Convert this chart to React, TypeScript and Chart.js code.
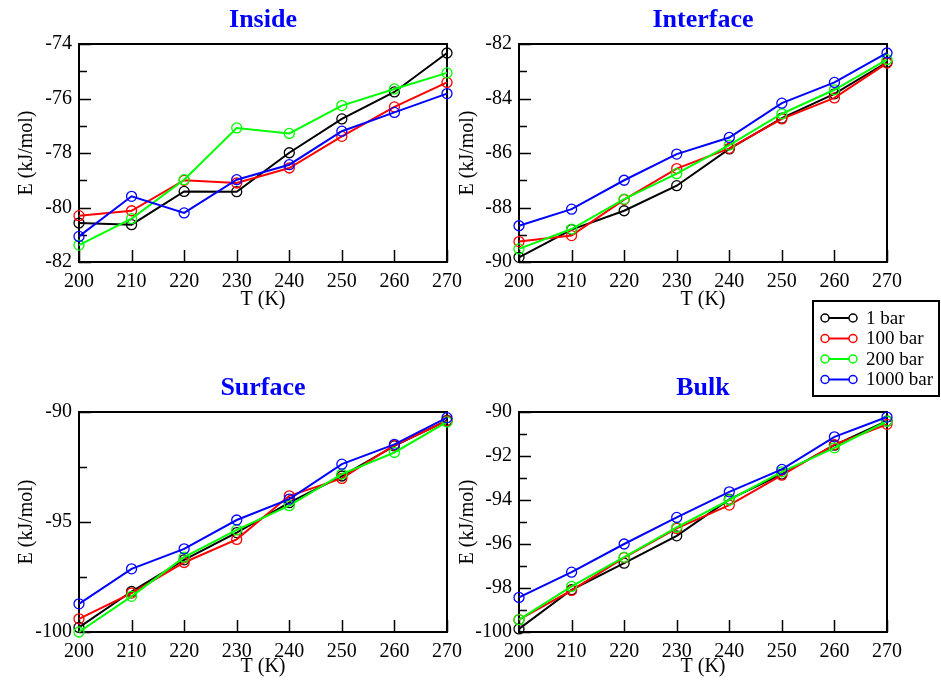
import React, { useEffect, useRef } from "react";
import { Chart, registerables } from "chart.js";

Chart.register(...registerables);

const temperatures = [200, 210, 220, 230, 240, 250, 260, 270];
const seriesLabels = ["1 bar", "100 bar", "200 bar", "1000 bar"];
const seriesColors = ["#000000", "#ff0000", "#00ff00", "#0000ff"];

const insideBar1 = [-80.57, -80.63, -79.41, -79.42, -77.99, -76.75, -75.76, -74.33];
const insideBar100 = [-80.3, -80.12, -79.0, -79.1, -78.55, -77.39, -76.31, -75.41];
const insideBar200 = [-81.38, -80.41, -78.98, -77.08, -77.28, -76.26, -75.65, -75.06];
const insideBar1000 = [-81.06, -79.59, -80.2, -78.98, -78.43, -77.2, -76.51, -75.82];

const interfaceBar1 = [-89.83, -88.81, -88.12, -87.2, -85.85, -84.72, -83.83, -82.67];
const interfaceBar100 = [-89.25, -89.03, -87.71, -86.57, -85.83, -84.75, -83.98, -82.7];
const interfaceBar200 = [-89.52, -88.79, -87.69, -86.76, -85.71, -84.56, -83.68, -82.57];
const interfaceBar1000 = [-88.67, -88.06, -87.0, -86.04, -85.43, -84.17, -83.41, -82.33];

const surfaceBar1 = [-99.79, -98.16, -96.72, -95.48, -94.12, -92.91, -91.54, -90.38];
const surfaceBar100 = [-99.4, -98.23, -96.84, -95.79, -93.81, -93.02, -91.51, -90.41];
const surfaceBar200 = [-100.0, -98.38, -96.6, -95.36, -94.26, -92.82, -91.84, -90.45];
const surfaceBar1000 = [-98.72, -97.13, -96.22, -94.91, -93.96, -92.37, -91.47, -90.26];

const bulkBar1 = [-99.86, -98.08, -96.87, -95.63, -93.97, -92.82, -91.51, -90.41];
const bulkBar100 = [-99.44, -98.11, -96.62, -95.29, -94.23, -92.87, -91.48, -90.56];
const bulkBar200 = [-99.44, -97.93, -96.6, -95.24, -94.0, -92.72, -91.63, -90.42];
const bulkBar1000 = [-98.43, -97.28, -96.0, -94.79, -93.63, -92.61, -91.13, -90.23];

const panelTitles = ["Inside", "Interface", "Surface", "Bulk"];
const xAxisTitle = "T (K)";
const yAxisTitle = "E (kJ/mol)";

const SERIF = "'Liberation Serif', 'Times New Roman', serif";

type PanelSpec = {
  title: string;
  series: number[][];
  yMin: number;
  yMax: number;
  yStep: number;
  yMinor: number;
  left: number;
  top: number;
  width: number;
  height: number;
  padRight: number;
  padBottom: number;
  yAxisWidth: number;
  xAxisHeight: number;
  titlePadTop: number;
  titlePadBottom: number;
  yTitlePad: number;
  legend: boolean;
};

const framePlugin = {
  id: "frameTicks",
  beforeDatasetsDraw(chart: any, _args: any, opts: any) {
    const { ctx, chartArea } = chart;
    const { left, right, top, bottom } = chartArea;
    const xs = chart.scales.x;
    const ys = chart.scales.y;
    ctx.save();
    ctx.strokeStyle = "#000";
    ctx.lineWidth = 1.5;
    ctx.beginPath();
    xs.ticks.forEach((t: any) => {
      const px = Math.round(xs.getPixelForValue(t.value)) + 0.5;
      ctx.moveTo(px, bottom);
      ctx.lineTo(px, bottom - 12);
    });
    const minor = opts.minor as number;
    const major = opts.major as number;
    for (let v = ys.min; v <= ys.max + 1e-9; v += minor) {
      const py = Math.round(ys.getPixelForValue(v)) + 0.5;
      const isMajor = Math.abs((v - ys.min) / major - Math.round((v - ys.min) / major)) < 1e-6;
      ctx.moveTo(left, py);
      ctx.lineTo(left + (isMajor ? 12 : 8), py);
    }
    ctx.stroke();
    ctx.lineWidth = 2;
    ctx.strokeRect(left, top, right - left, bottom - top);
    ctx.restore();
  },
};

const legendPlugin = {
  id: "boxLegend",
  afterDraw(chart: any, _args: any, opts: any) {
    if (!opts || !opts.show) return;
    const { ctx } = chart;
    const bx = opts.x as number;
    const by = opts.y as number;
    ctx.save();
    ctx.strokeStyle = "#000";
    ctx.lineWidth = 2;
    ctx.strokeRect(bx, by, opts.w, opts.h);
    ctx.font = `19px ${SERIF}`;
    ctx.textBaseline = "middle";
    ctx.textAlign = "left";
    chart.data.datasets.forEach((ds: any, i: number) => {
      const cy = by + 17 + i * 20.5;
      const x0 = bx + 12;
      const x1 = bx + 40;
      ctx.strokeStyle = ds.borderColor;
      ctx.lineWidth = 2;
      ctx.beginPath();
      ctx.moveTo(x0 + 4, cy);
      ctx.lineTo(x1 - 4, cy);
      ctx.stroke();
      ctx.lineWidth = 1.5;
      ctx.beginPath();
      ctx.arc(x0, cy, 4, 0, Math.PI * 2);
      ctx.stroke();
      ctx.beginPath();
      ctx.arc(x1, cy, 4, 0, Math.PI * 2);
      ctx.stroke();
      ctx.fillStyle = "#000";
      ctx.fillText(ds.label, bx + 53, cy + 1);
    });
    ctx.restore();
  },
};

const panels: PanelSpec[] = [
  {
    title: panelTitles[0],
    series: [insideBar1, insideBar100, insideBar200, insideBar1000],
    yMin: -82, yMax: -74, yStep: 2, yMinor: 1,
    left: 0, top: 0, width: 470, height: 340,
    padRight: 23, padBottom: 28, yAxisWidth: 79, xAxisHeight: 50,
    titlePadTop: 4.4, titlePadBottom: 8.4, yTitlePad: 15, legend: false,
  },
  {
    title: panelTitles[1],
    series: [interfaceBar1, interfaceBar100, interfaceBar200, interfaceBar1000],
    yMin: -90, yMax: -82, yStep: 2, yMinor: 1,
    left: 450, top: 0, width: 491, height: 410,
    padRight: 54, padBottom: 98, yAxisWidth: 69, xAxisHeight: 50,
    titlePadTop: 4.4, titlePadBottom: 8.4, yTitlePad: 6, legend: true,
  },
  {
    title: panelTitles[2],
    series: [surfaceBar1, surfaceBar100, surfaceBar200, surfaceBar1000],
    yMin: -100, yMax: -90, yStep: 5, yMinor: 2.5,
    left: 0, top: 340, width: 470, height: 340,
    padRight: 23, padBottom: 1, yAxisWidth: 79, xAxisHeight: 47,
    titlePadTop: 32.4, titlePadBottom: 8.4, yTitlePad: 15, legend: false,
  },
  {
    title: panelTitles[3],
    series: [bulkBar1, bulkBar100, bulkBar200, bulkBar1000],
    yMin: -100, yMax: -90, yStep: 2, yMinor: 1,
    left: 450, top: 340, width: 491, height: 340,
    padRight: 54, padBottom: 1, yAxisWidth: 69, xAxisHeight: 47,
    titlePadTop: 32.4, titlePadBottom: 8.4, yTitlePad: 6, legend: false,
  },
];

function Panel({ spec }: { spec: PanelSpec }) {
  const ref = useRef<HTMLCanvasElement | null>(null);
  useEffect(() => {
    if (!ref.current) return;
    const tickFont = { family: SERIF, size: 20, lineHeight: 1.2 };
    const chart = new Chart(ref.current, {
      type: "line",
      data: {
        datasets: spec.series.map((vals, i) => ({
          label: seriesLabels[i],
          data: temperatures.map((t, j) => ({ x: t, y: vals[j] })),
          borderColor: seriesColors[i],
          backgroundColor: "transparent",
          pointBorderColor: seriesColors[i],
          pointBackgroundColor: "transparent",
          pointRadius: 5,
          pointBorderWidth: 1.3,
          borderWidth: 2,
          tension: 0,
          fill: false,
          clip: false as any,
          order: 4 - i,
        })),
      },
      options: {
        responsive: false,
        animation: false,
        events: [],
        layout: { padding: { left: 0, right: spec.padRight, top: 0, bottom: spec.padBottom } },
        plugins: {
          legend: { display: false },
          tooltip: { enabled: false },
          title: {
            display: true,
            text: spec.title,
            color: "#0000ff",
            fullSize: false,
            font: { family: SERIF, size: 26, weight: "bold", lineHeight: 1.2 },
            padding: { top: spec.titlePadTop, bottom: spec.titlePadBottom },
          },
          frameTicks: { major: spec.yStep, minor: spec.yMinor },
          boxLegend: { show: spec.legend, x: 363, y: 301, w: 126, h: 95 },
        } as any,
        scales: {
          x: {
            type: "linear",
            min: 200,
            max: 270,
            ticks: { stepSize: 10, font: tickFont, color: "#000", padding: 8, maxRotation: 0, autoSkip: false },
            grid: { display: false, drawTicks: false },
            border: { display: false },
            title: { display: true, text: xAxisTitle, color: "#000", font: tickFont, padding: { top: 0, bottom: 0 } },
            afterFit: (s: any) => { s.height = spec.xAxisHeight; },
          },
          y: {
            type: "linear",
            min: spec.yMin,
            max: spec.yMax,
            ticks: { stepSize: spec.yStep, font: tickFont, color: "#000", padding: 7 },
            grid: { display: false, drawTicks: false },
            border: { display: false },
            title: { display: true, text: yAxisTitle, color: "#000", font: tickFont, padding: { top: spec.yTitlePad, bottom: 0 } },
            afterFit: (s: any) => { s.width = spec.yAxisWidth; },
          },
        },
      },
      plugins: [framePlugin, legendPlugin],
    });
    return () => chart.destroy();
  }, [spec]);
  return (
    <canvas
      ref={ref}
      width={spec.width}
      height={spec.height}
      style={{ position: "absolute", left: spec.left, top: spec.top, width: spec.width, height: spec.height }}
    />
  );
}

export default function App() {
  return (
    <div style={{ position: "absolute", left: 0, top: 0, width: 941, height: 680, background: "#fff", overflow: "hidden" }}>
      {panels.map((p) => (
        <Panel key={p.title} spec={p} />
      ))}
    </div>
  );
}
